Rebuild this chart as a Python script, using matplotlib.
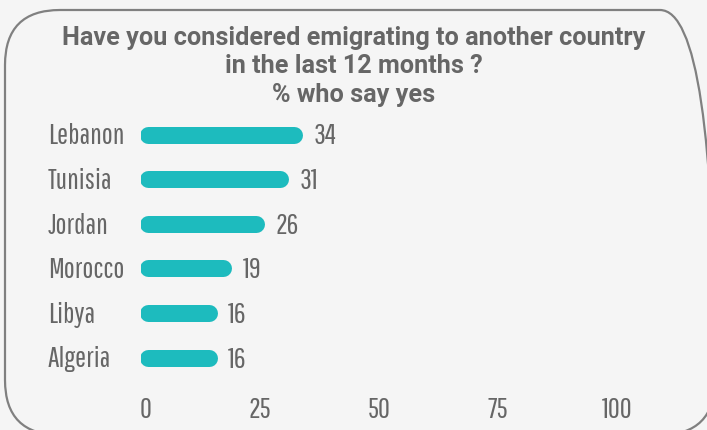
import matplotlib
matplotlib.use("Agg")
import matplotlib.pyplot as plt
import matplotlib.transforms as mtransforms
from matplotlib.patches import FancyBboxPatch

# survey results, % who say yes
countries = ["Lebanon", "Tunisia", "Jordan", "Morocco", "Libya", "Algeria"]
values = [34, 31, 26, 19, 16, 16]
xticks = [0, 25, 50, 75, 100]
title_lines = ["Have you considered emigrating to another country",
               "in the last 12 months ?",
               "% who say yes"]

bg = "#f5f5f5"
grey = "#666666"
teal = "#1dbbbe"
label_font = "Pathway Gothic One"
title_font = "Roboto"

W, H = 707, 430
fig = plt.figure(figsize=(W / 100, H / 100), dpi=100, facecolor=bg)

# background axes in pixel units (y up), holds the rounded frame
bg_ax = fig.add_axes([0, 0, 1, 1])
bg_ax.set_xlim(0, W)
bg_ax.set_ylim(0, H)
bg_ax.axis("off")
frame = FancyBboxPatch((5, H - 435), 710, 425, boxstyle="round,pad=0,rounding_size=55",
                       fc="none", ec="#808080", lw=1.6)
bg_ax.add_patch(frame)

# title
for line, base in zip(title_lines, [45, 73, 102]):
    fig.text(0.5, 1 - base / H, line, ha="center", va="baseline", family=title_font,
             weight="bold", fontsize=18.2, color=grey)

ax = fig.add_axes([141 / W, 1 - 379.8 / H, 476 / W, 267.6 / H])
ax.set_facecolor("none")
ax.set_xlim(0, 100)
ax.set_ylim(len(countries) - 0.5, -0.5)

bar_px = 17
cap = (bar_px / 2) * 100 / 476  # half bar height in data units
for i, v in enumerate(values):
    ax.plot([cap - 0.3, v - cap], [i, i], color=teal, lw=bar_px * 72 / 100,
            solid_capstyle="round")

base_shift = mtransforms.offset_copy(ax.transData, fig=fig, x=11, y=-10, units="dots")
for i, v in enumerate(values):
    ax.text(v, i, str(v), transform=base_shift, ha="left", va="baseline",
            family=label_font, fontsize=21, color=grey)

row_trans = mtransforms.blended_transform_factory(fig.transFigure, ax.transData)
row_trans = mtransforms.offset_copy(row_trans, fig=fig, y=-10, units="dots")
for i, c in enumerate(countries):
    ax.text(48 / W, i, c, transform=row_trans, ha="left", va="baseline",
            family=label_font, fontsize=21, color=grey)

ax.set_xticks(xticks)
ax.set_xticklabels([str(t) for t in xticks], family=label_font, fontsize=21, color=grey)
ax.tick_params(axis="x", length=0, pad=12.5)
zero = ax.get_xticklabels()[0]
zero.set_transform(zero.get_transform() + mtransforms.ScaledTranslation(5 / 100, 0, fig.dpi_scale_trans))
ax.set_yticks([])
for s in ax.spines.values():
    s.set_visible(False)

fig.savefig("out.png", dpi=100, facecolor=bg)
